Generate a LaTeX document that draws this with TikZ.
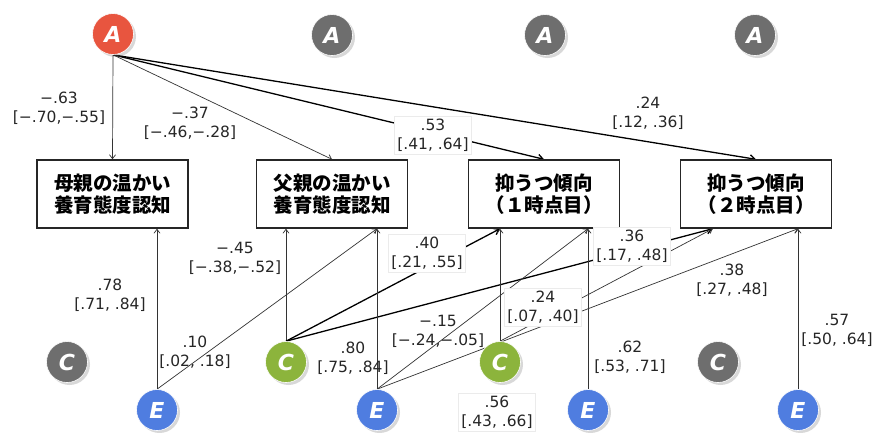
\documentclass[tikz,border=0pt]{standalone}
\usepackage{fontspec}
\setmainfont{DejaVu Sans}
\newfontfamily\jp{Noto Sans CJK JP}
\newfontfamily\labf{DejaVu Sans}
\newfontfamily\ballf{DejaVu Sans}
\usetikzlibrary{arrows.meta,shadows,calc}
\definecolor{cred}{HTML}{E8553F}
\definecolor{cgray}{HTML}{6E6E6E}
\definecolor{cgreen}{HTML}{8CB43C}
\definecolor{cblue}{HTML}{4F7DE0}
\pgfdeclarelayer{bg}
\pgfsetlayers{bg,main}
\begin{document}
\begin{tikzpicture}[x=1pt,y=-1pt,
  ball/.style={circle,minimum size=41pt,inner sep=0pt,text=white,
    font=\ballf\bfseries\itshape\fontsize{22}{22}\selectfont,
    draw=white,line width=0.6pt,
    drop shadow={shadow xshift=2.5pt,shadow yshift=-2.5pt,opacity=0.3}},
  redball/.style={ball,fill=cred},
  grayball/.style={ball,fill=cgray},
  greenball/.style={ball,fill=cgreen},
  blueball/.style={ball,fill=cblue},
  varbox/.style={draw=black!85,line width=1.4pt,fill=white,minimum width=151pt,
    minimum height=68pt,align=center,inner sep=0pt,
    font=\jp\bfseries\fontsize{19.5}{22}\selectfont},
  lab/.style={align=center,inner sep=2pt,font=\labf\fontsize{15.5}{19}\selectfont,text=black!85},
  wlab/.style={lab,fill=white,draw=black!8,inner sep=3pt},
  thinarrow/.style={draw=black!80,line width=0.7pt,-{Straight Barb[length=4pt,width=6pt]}},
  thickarrow/.style={draw=black,line width=1.3pt,-{Straight Barb[length=5pt,width=7pt]}}
]
\useasboundingbox (0,0) rectangle (873,432);

% boxes
\node[varbox] (B1) at (112.5,194) {母親の温かい\\養育態度認知};
\node[varbox] (B2) at (332,194) {父親の温かい\\養育態度認知};
\node[varbox] (B3) at (544,194) {抑うつ傾向\\（１時点目）};
\node[varbox] (B4) at (756,194) {抑うつ傾向\\（２時点目）};

% circles
\node[redball] (A1) at (113,34) {A};
\node[grayball] (A2) at (332,35) {A};
\node[grayball] (A3) at (545,35) {A};
\node[grayball] (A4) at (755,35) {A};
\node[grayball] (Cg1) at (67,362) {C};
\node[greenball] (C1) at (286,362) {C};
\node[greenball] (C2) at (500,362) {C};
\node[grayball] (Cg2) at (718,362) {C};
\node[blueball] (E1) at (157,410) {E};
\node[blueball] (E2) at (377,410) {E};
\node[blueball] (E3) at (588,410) {E};
\node[blueball] (E4) at (798,410) {E};

\coordinate (B4p) at ($(B4.south west)+(33,0)$);

\begin{pgfonlayer}{bg}
\fill[white] (0,0) rectangle (873,432);
\draw[thinarrow] (A1.south) -- (B1.north);
\draw[thinarrow] (A1.south) -- (B2.north);
\draw[thickarrow] (A1.south) -- (B3.north);
\draw[thickarrow] (A1.south) -- (B4.north);
\draw[thinarrow] (E1.north) -- (E1.north |- B1.south);
\draw[thinarrow] (E1.north) -- (E2.north |- B2.south);
\draw[thinarrow] (C1.north) -- (C1.north |- B2.south);
\draw[thickarrow] (C1.north) -- (C2.north |- B3.south);
\draw[thickarrow] (C1.north) -- (B4p);
\draw[thinarrow] (E2.north) -- (E2.north |- B2.south);
\draw[thinarrow] (E2.north) -- (E3.north |- B3.south);
\draw[thinarrow] (E2.north) -- (E4.north |- B4.south);
\draw[thinarrow] (C2.north) -- (C2.north |- B3.south);
\draw[thinarrow] (C2.north) -- (B4p);
\draw[thinarrow] (E3.north) -- (E3.north |- B3.south);
\draw[thinarrow] (E4.north) -- (E4.north |- B4.south);
\end{pgfonlayer}

% labels
\node[lab] (l1) at (59,108) {−.63\\{}[−.70,−.55]};
\node[lab] (l2) at (190,123) {−.37\\{}[−.46,−.28]};
\node[wlab] (l3) at (433,135) {.53\\{}[.41, .64]};
\node[lab] (l4) at (648,113) {.24\\{}[.12, .36]};
\node[lab] (l5) at (110,295) {.78\\{}[.71, .84]};
\node[lab] (l6) at (235,258) {−.45\\{}[−.38,−.52]};
\node[lab] (l7) at (195,352) {.10\\{}[.02, .18]};
\node[wlab] (l8) at (427,253) {.40\\{}[.21, .55]};
\node[lab] (l9) at (353,358) {.80\\{}[.75, .84]};
\node[lab] (l10) at (438,331) {−.15\\{}[−.24,−.05]};
\node[wlab] (l11) at (632,246) {.36\\{}[.17, .48]};
\node[wlab] (l12) at (543,307) {.24\\{}[.07, .40]};
\node[lab] (l13) at (732,280) {.38\\{}[.27, .48]};
\node[wlab] (l14) at (497,412) {.56\\{}[.43, .66]};
\node[lab] (l15) at (630,357) {.62\\{}[.53, .71]};
\node[lab] (l16) at (837,330) {.57\\{}[.50, .64]};
\end{tikzpicture}
\end{document}
